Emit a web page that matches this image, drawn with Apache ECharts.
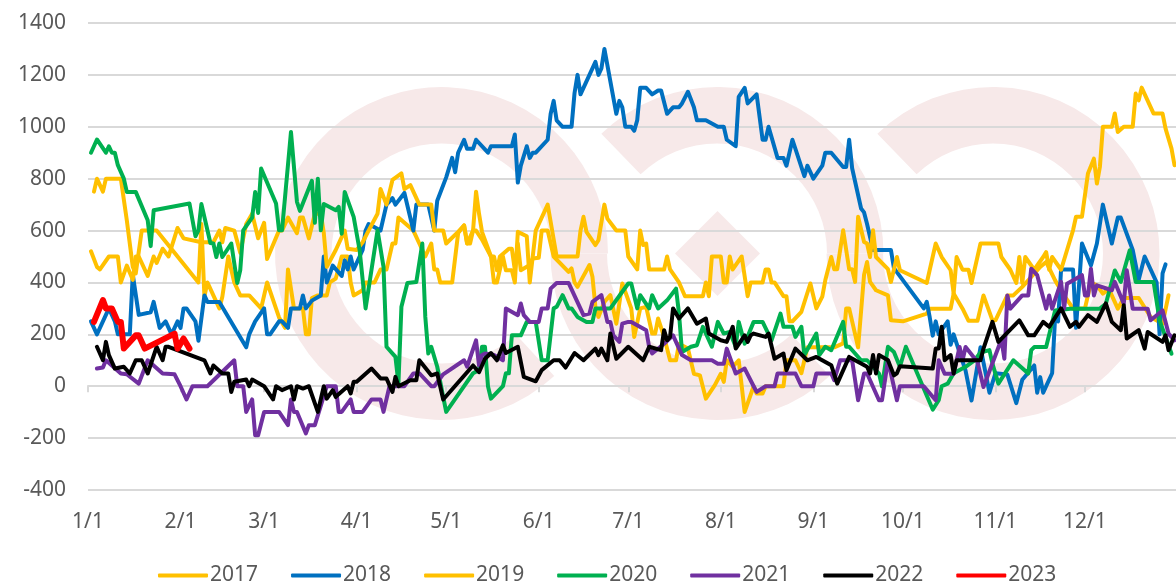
<!DOCTYPE html>
<html><head><meta charset="utf-8">
<script src="https://cdn.jsdelivr.net/npm/echarts@6/dist/echarts.min.js"></script>
<style>html,body{margin:0;padding:0;background:#fff}#c{width:1176px;height:586px}</style>
</head><body><div id="c"></div>
<script>
const monthStarts=[0,31,59,90,120,151,181,212,243,273,304,334];
const monthLabels=['1/1','2/1','3/1','4/1','5/1','6/1','7/1','8/1','9/1','10/1','11/1','12/1'];
const yTicks=[-400,1400,200];
const s2017=[[2,750],[3,800],[5,750],[6,800],[11,800],[13,640],[15,460],[16,435],[18,600],[23,600],[37,400],[38,625],[39,345],[40,400],[44,300],[45,345],[47,500],[49,400],[51,350],[54,350],[58,300],[60,400],[64,265],[66,225],[67,450],[69,300],[72,300],[73,200],[74,200],[75,340],[77,350],[80,350],[81,400],[83,415],[85,500],[87,500],[88,400],[89,350],[92,370],[93,400],[96,400],[98,450],[100,450],[102,550],[103,550],[104,650],[109,600],[111,550],[113,500],[115,550],[116,450],[117,450],[118,400],[122,400],[124,590],[126,620],[127,550],[129,600],[130,600],[132,565],[135,500],[136,500],[137,447],[138,500],[141,530],[142,530],[143,447],[144,550],[145,447],[148,467],[149,492],[151,495],[152,600],[154,600],[156,500],[161,441],[162,454],[163,400],[164,383],[168,467],[169,422],[170,305],[171,267],[173,325],[175,351],[177,241],[179,396],[182,300],[183,190],[185,300],[187,306],[189,203],[190,203],[191,261],[193,190],[195,100],[197,100],[198,164],[201,145],[203,48],[205,42],[207,-48],[210,4],[212,48],[213,17],[214,100],[216,75],[218,100],[220,-99],[223,0],[224,-28],[226,-28],[227,0],[233,0],[234,100],[237,100],[239,50],[241,150],[250,150],[253,165],[254,300],[255,300],[258,150],[260,430],[261,479],[262,402],[264,370],[268,350],[269,254],[273,250],[281,280],[282,299],[289,299],[290,357],[293,299],[295,252],[298,252],[300,350],[303,254],[304,254],[308,350],[310,350],[313,383],[316,421],[319,460],[321,479],[324,408],[327,350],[330,300],[334,300],[336,400],[338,389],[340,357],[342,375],[345,299],[347,340],[348,340],[352,340],[356,267],[360,241],[362,351]];
const s2018=[[1,250],[3,200],[7,300],[9,250],[10,200],[12,200],[14,200],[15,430],[17,275],[21,285],[22,325],[24,225],[26,250],[28,200],[30,250],[31,225],[32,300],[33,300],[36,250],[37,175],[39,350],[40,325],[44,325],[53,150],[54,200],[56,250],[59,300],[60,200],[61,200],[64,250],[65,250],[67,225],[68,300],[71,300],[72,350],[73,300],[75,330],[78,350],[79,500],[80,400],[82,465],[85,425],[86,485],[87,450],[88,500],[89,450],[92,525],[93,600],[94,625],[98,600],[100,700],[102,725],[103,700],[106,745],[109,600],[110,700],[114,700],[116,600],[117,715],[120,805],[122,880],[123,825],[124,900],[126,950],[127,915],[129,915],[130,950],[134,900],[135,925],[142,925],[143,970],[144,785],[145,850],[147,925],[148,880],[149,900],[150,900],[154,950],[155,1050],[156,1100],[157,1025],[159,1000],[162,1000],[163,1130],[164,1200],[165,1125],[170,1250],[171,1200],[172,1225],[173,1300],[177,1050],[178,1100],[179,1075],[180,1000],[182,1000],[183,985],[184,1025],[185,1150],[187,1150],[189,1125],[191,1140],[192,1140],[194,1050],[196,1075],[198,1075],[199,1090],[201,1135],[203,1075],[204,1025],[207,1025],[211,1000],[213,1000],[214,950],[217,925],[218,1115],[220,1150],[221,1090],[224,1125],[226,950],[227,950],[228,1000],[231,880],[233,880],[234,850],[236,950],[240,810],[241,850],[243,800],[246,850],[247,900],[249,900],[253,845],[254,845],[255,950],[256,840],[259,685],[260,670],[261,625],[263,525],[269,525],[270,455],[280,300],[281,325],[282,265],[283,195],[284,250],[285,200],[288,250],[289,160],[290,200],[294,60],[296,-55],[299,150],[302,-25],[304,50],[308,45],[311,-65],[313,25],[317,80],[318,-25],[319,35],[320,-25],[323,50],[324,265],[325,250],[326,450],[330,450],[331,225],[333,550],[336,465],[338,550],[340,700],[343,550],[345,650],[346,650],[350,525],[352,410],[354,500],[358,400],[359,200],[360,435],[361,470]];
const s2019=[[1,520],[3,460],[4,450],[7,500],[10,500],[11,400],[13,465],[15,410],[16,500],[17,500],[20,425],[22,500],[23,475],[25,530],[27,500],[30,610],[32,570],[38,555],[39,555],[42,555],[44,600],[45,555],[46,610],[49,600],[51,515],[53,625],[55,665],[57,570],[59,630],[60,490],[64,600],[65,600],[67,650],[70,590],[71,650],[72,650],[74,570],[76,665],[78,665],[79,590],[80,460],[83,525],[86,600],[87,530],[90,525],[92,555],[94,600],[97,665],[98,760],[100,700],[102,795],[105,820],[106,760],[108,775],[111,700],[115,700],[116,600],[119,600],[120,550],[124,595],[126,620],[127,550],[128,550],[129,600],[130,750],[131,665],[132,595],[135,500],[136,400],[137,400],[139,500],[140,447],[142,447],[143,400],[144,595],[147,578],[148,400],[150,600],[154,700],[157,500],[164,500],[165,600],[166,653],[167,595],[170,544],[171,563],[173,700],[174,646],[177,600],[180,600],[181,500],[184,450],[185,600],[186,544],[187,550],[188,450],[193,450],[194,500],[195,450],[198,400],[200,347],[206,347],[207,400],[208,347],[209,500],[212,500],[213,400],[214,400],[215,500],[216,450],[219,500],[221,347],[222,400],[226,400],[227,450],[228,450],[229,400],[230,400],[233,347],[234,347],[235,250],[236,250],[239,287],[242,396],[244,300],[246,345],[247,408],[249,498],[250,451],[251,451],[253,601],[255,451],[256,451],[257,402],[258,653],[260,556],[261,550],[262,498],[263,601],[264,498],[268,451],[269,402],[271,498],[272,447],[281,398],[284,550],[286,498],[289,447],[290,357],[291,498],[293,449],[295,449],[296,398],[299,550],[305,550],[306,498],[309,449],[311,398],[312,498],[313,398],[314,498],[317,449],[320,498],[321,517],[322,449],[323,498],[326,449],[330,601],[331,653],[333,653],[335,820],[337,877],[338,781],[339,845],[340,1000],[343,1000],[344,1051],[345,980],[347,1000],[350,1000],[351,1128],[352,1102],[353,1151],[357,1051],[360,1051],[361,993],[363,916],[364,852]];
const s2020=[[1,900],[3,951],[6,900],[7,925],[8,900],[9,900],[10,852],[12,800],[13,749],[16,749],[20,640],[21,540],[22,678],[34,704],[36,578],[37,601],[38,702],[41,552],[42,550],[43,498],[44,550],[45,498],[48,550],[50,398],[51,447],[52,601],[55,650],[56,749],[57,668],[58,839],[63,704],[64,601],[65,601],[68,980],[70,711],[71,676],[75,792],[76,630],[77,800],[78,601],[79,702],[83,678],[84,691],[85,588],[86,749],[89,653],[91,524],[93,300],[97,601],[99,460],[100,152],[103,113],[104,10],[105,306],[107,398],[110,402],[112,550],[113,267],[114,126],[115,152],[117,75],[120,-99],[126,0],[129,50],[131,62],[132,152],[133,152],[134,0],[135,-48],[139,0],[140,50],[141,50],[142,196],[145,196],[147,248],[150,248],[152,100],[154,100],[156,300],[157,306],[159,351],[161,300],[162,300],[164,267],[167,248],[169,248],[170,300],[175,300],[179,364],[181,396],[182,396],[184,300],[185,351],[188,300],[189,351],[191,300],[194,331],[197,376],[198,280],[199,132],[202,152],[204,158],[206,229],[209,152],[211,248],[213,203],[215,209],[217,152],[218,248],[220,164],[223,248],[226,248],[229,177],[232,280],[233,229],[236,229],[237,190],[239,229],[240,120],[244,203],[245,120],[247,152],[249,139],[253,248],[254,152],[255,152],[259,100],[261,100],[265,49],[266,0],[268,152],[270,132],[272,75],[274,152],[283,-90],[285,-54],[286,0],[288,10],[290,50],[294,75],[297,100],[299,130],[302,139],[303,87],[305,10],[310,100],[315,49],[316,139],[317,151],[321,151],[324,292],[329,299],[339,299],[341,318],[344,446],[346,402],[349,524],[351,402],[357,402],[359,254],[363,125]];
const s2021=[[3,68],[5,72],[6,100],[11,49],[13,46],[17,10],[20,100],[25,49],[29,46],[31,0],[33,-51],[35,0],[40,0],[49,100],[50,0],[52,0],[53,-99],[55,-51],[56,-189],[57,-189],[59,-99],[64,-99],[67,-150],[68,-51],[69,-99],[70,-99],[73,-182],[74,-150],[76,-150],[80,0],[83,0],[84,-99],[85,-99],[88,-51],[89,-99],[92,-99],[95,-51],[98,-51],[99,-99],[101,0],[106,0],[109,49],[111,50],[115,0],[116,0],[119,46],[126,100],[127,75],[130,177],[131,80],[132,120],[133,126],[136,120],[139,100],[140,300],[144,274],[145,319],[146,274],[148,248],[151,248],[152,300],[154,300],[155,376],[157,398],[161,398],[166,274],[168,280],[169,325],[172,351],[174,248],[175,248],[176,196],[178,171],[179,241],[181,248],[182,248],[187,216],[188,151],[189,126],[193,164],[196,196],[199,120],[202,100],[209,100],[211,87],[213,87],[214,145],[217,49],[220,68],[223,0],[224,-22],[227,0],[230,0],[231,49],[237,49],[239,0],[243,0],[244,49],[249,49],[250,23],[252,100],[256,100],[258,-54],[260,49],[261,49],[265,-54],[266,-54],[268,100],[271,-54],[272,0],[280,0],[284,-54],[285,100],[287,48],[290,48],[292,151],[293,100],[294,151],[298,93],[300,-3],[306,180],[307,106],[308,350],[309,299],[313,350],[315,350],[316,453],[318,428],[321,299],[322,350],[323,299],[326,402],[327,299],[328,395],[333,428],[334,350],[335,350],[336,453],[337,350],[338,389],[343,370],[344,402],[347,318],[348,447],[350,299],[355,299],[356,254],[360,292],[362,203],[364,177]];
const s2022=[[3,152],[5,100],[6,171],[7,120],[9,68],[12,75],[14,49],[16,100],[18,100],[20,49],[23,152],[25,100],[26,152],[27,152],[39,100],[41,49],[42,80],[45,49],[47,49],[48,-22],[49,17],[53,26],[54,0],[55,26],[59,0],[62,-51],[63,0],[65,-15],[68,0],[69,-51],[70,0],[72,-9],[74,0],[77,-99],[79,0],[80,-48],[82,-15],[83,-41],[87,0],[88,-28],[89,17],[90,17],[95,68],[98,30],[100,30],[102,-22],[103,36],[104,0],[108,23],[110,23],[111,100],[115,42],[117,49],[119,-51],[129,80],[131,54],[133,106],[135,128],[137,100],[139,158],[140,128],[144,152],[146,36],[150,19],[152,62],[156,100],[158,100],[160,72],[163,128],[166,100],[170,145],[171,120],[172,145],[174,100],[175,203],[177,106],[181,152],[186,100],[188,152],[192,139],[193,216],[194,177],[195,190],[196,300],[198,261],[201,300],[204,241],[207,261],[208,203],[212,177],[214,171],[216,229],[217,145],[220,196],[221,171],[222,196],[223,203],[227,190],[228,203],[230,106],[233,126],[234,62],[237,145],[241,100],[244,113],[249,81],[251,10],[255,113],[261,75],[262,49],[263,120],[264,49],[265,120],[268,100],[270,42],[271,50],[272,77],[283,68],[284,145],[285,145],[286,229],[287,100],[289,120],[290,49],[291,100],[299,100],[300,145],[303,248],[305,171],[312,254],[315,196],[317,196],[320,248],[322,229],[326,300],[329,229],[331,248],[332,229],[335,274],[338,248],[341,319],[343,248],[346,216],[347,312],[348,184],[352,216],[354,145],[355,209],[360,171],[361,196],[362,139],[364,196]];
const s2023=[[2,248],[5,332],[6,300],[8,300],[10,248],[11,248],[12,145],[16,196],[17,196],[19,145],[29,203],[30,145],[32,184],[34,145]];

const gridColor='#d9d9d9', textColor='#595959', pink='#f7e9e9', font='Noto Sans';
const deg=Math.PI/180;
function arc(cx,startA,endA){return {type:'sector',z:-1,silent:true,
  shape:{cx:cx,cy:253.5,r:166.5,r0:110,startAngle:startA*deg,endAngle:endA*deg,clockwise:true},
  style:{fill:pink}};}
function line(name,data,color,width){return {name:name,type:'line',data:data,showSymbol:false,symbol:'none',
  smooth:false,lineStyle:{color:color,width:width,cap:'round',join:'round'},itemStyle:{color:color},
  emphasis:{disabled:true},animation:false};}
const chart=echarts.init(document.getElementById('c'),null,{renderer:'canvas'});
chart.setOption({
  animation:false,backgroundColor:'#fff',
  graphic:{elements:[arc(441.5,47.4,360),arc(717,226,360),arc(717,47.4,180),arc(993,226,540),
    {type:'polygon',z:-1,silent:true,shape:{points:[[717.5,211],[760,253.5],[717.5,296],[675,253.5]]},style:{fill:pink}}]},
  grid:{left:88,right:0,top:23,bottom:96,containLabel:false},
  legend:{left:153,top:560,itemWidth:50,itemHeight:4,itemGap:33,icon:'roundRect',
    textStyle:{color:textColor,fontFamily:font,fontSize:21,padding:[0,0,0,-3]},
    data:['2017','2018','2019','2020','2021','2022','2023']},
  xAxis:[
    {type:'value',min:0,max:364.5,position:'bottom',
     axisLine:{show:false,onZero:false},axisTick:{show:false},splitLine:{show:false},
     axisLabel:{color:textColor,fontFamily:font,fontSize:21,margin:22,customValues:monthStarts,
       hideOverlap:false,formatter:function(v){return monthLabels[monthStarts.indexOf(v)];}}},
    {type:'value',min:0,max:364.5,position:'bottom',
     axisLine:{show:true,onZero:true,lineStyle:{color:gridColor,width:2}},
     axisTick:{show:true,length:6,lineStyle:{color:gridColor,width:2},customValues:monthStarts},
     axisLabel:{show:false},splitLine:{show:false}}
  ],
  yAxis:{type:'value',min:yTicks[0],max:yTicks[1],interval:yTicks[2],
    axisLine:{show:false},axisTick:{show:false},
    axisLabel:{color:textColor,fontFamily:font,fontSize:21,margin:22,formatter:function(v){return String(v);}},
    splitLine:{lineStyle:{color:gridColor,width:2}}},
  series:[
    line('2017',s2017,'#ffc000',4),
    line('2018',s2018,'#0070c0',4),
    line('2019',s2019,'#ffc000',4),
    line('2020',s2020,'#00b050',4),
    line('2021',s2021,'#7030a0',4),
    line('2022',s2022,'#000000',4),
    line('2023',s2023,'#ff0000',6)
  ]
});
</script></body></html>
